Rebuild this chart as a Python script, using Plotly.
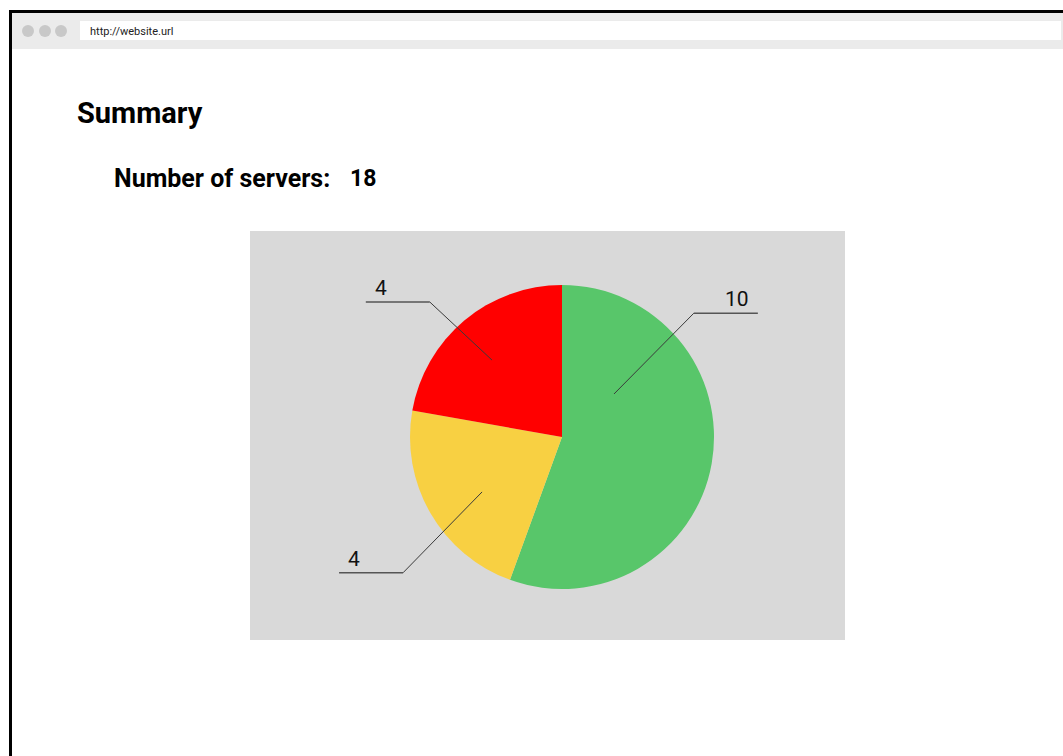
import math
import plotly.graph_objects as go

# ---- data ----
categories = ["OK", "Warning", "Error"]
server_counts = [10, 4, 4]
slice_colors = ["#58c66a", "#f8d042", "#ff0000"]
total_servers = sum(server_counts)

# ---- layout constants (pixels) ----
W, H = 1063, 756
CX, CY, R = 562, 437, 152          # pie centre / radius
# label callout placement: inner angle (deg clockwise from 12 o'clock), inner frac,
# elbow angle, elbow frac, side
callouts = [(50.4, 0.444, 46.8, 1.19, "right"),
            (235.5, 0.638, 229.5, 1.375, "left"),
            (317.7, 0.684, 315.6, 1.243, "left")]
TAIL = 64


def px(x):
    return x / W


def py(y):
    return 1 - y / H


fig = go.Figure()
fig.add_trace(go.Pie(
    labels=categories, values=server_counts, sort=False, direction="clockwise",
    rotation=0, marker=dict(colors=slice_colors, line=dict(width=0)),
    textinfo="none", hoverinfo="skip", showlegend=False,
    domain=dict(x=[px(CX - R), px(CX + R)], y=[py(CY + R), py(CY - R)]),
))

shapes = []
annotations = []
# browser chrome
shapes.append(dict(type="rect", xref="paper", yref="paper", x0=px(11), x1=px(W), y0=py(49), y1=py(12),
                   fillcolor="#ebebeb", line=dict(width=0), layer="below"))
shapes.append(dict(type="rect", xref="paper", yref="paper", x0=px(80), x1=px(1061), y0=py(40), y1=py(21),
                   fillcolor="#ffffff", line=dict(width=0), layer="below"))
for dx in (28, 45, 61):
    shapes.append(dict(type="circle", xref="paper", yref="paper", x0=px(dx - 6), x1=px(dx + 6),
                       y0=py(31 + 6), y1=py(31 - 6), fillcolor="#c8c8c8", line=dict(width=0),
                       layer="below"))
shapes.append(dict(type="line", xref="paper", yref="paper", x0=px(9), x1=px(W), y0=py(11.5), y1=py(11.5),
                   line=dict(color="#000000", width=3)))
shapes.append(dict(type="line", xref="paper", yref="paper", x0=px(10.5), x1=px(10.5), y0=py(10), y1=py(H),
                   line=dict(color="#000000", width=3)))
# chart background panel
shapes.append(dict(type="rect", xref="paper", yref="paper", x0=px(250), x1=px(845), y0=py(640), y1=py(231),
                   fillcolor="#d9d9d9", line=dict(width=0), layer="below"))

annotations.append(dict(text="http://website.url", x=px(88), y=py(31), xref="paper", yref="paper",
                        xanchor="left", yanchor="middle", showarrow=False,
                        font=dict(family="Roboto", size=11, color="#222222")))
annotations.append(dict(text="Summary", x=px(75), y=py(113), xref="paper", yref="paper",
                        xanchor="left", yanchor="middle", showarrow=False,
                        font=dict(family="Roboto", size=29, color="#000000", weight=700)))
annotations.append(dict(text="Number of servers:", x=px(112), y=py(179), xref="paper", yref="paper",
                        xanchor="left", yanchor="middle", showarrow=False,
                        font=dict(family="Roboto", size=25, color="#000000", weight=700)))
annotations.append(dict(text=str(total_servers), x=px(348), y=py(179), xref="paper", yref="paper",
                        xanchor="left", yanchor="middle", showarrow=False,
                        font=dict(family="Roboto", size=23, color="#000000", weight=700)))

# callouts
for val, (ai, fin, ae, fel, side) in zip(server_counts, callouts):
    a1, a2 = math.radians(ai), math.radians(ae)
    x1, y1 = CX + fin * R * math.sin(a1), CY - fin * R * math.cos(a1)
    x2, y2 = CX + fel * R * math.sin(a2), CY - fel * R * math.cos(a2)
    x3 = x2 + TAIL if side == "right" else x2 - TAIL
    shapes.append(dict(type="line", xref="paper", yref="paper", x0=px(x1), y0=py(y1), x1=px(x2), y1=py(y2),
                       line=dict(color="#3a3a3a", width=1)))
    shapes.append(dict(type="line", xref="paper", yref="paper", x0=px(x2), y0=py(y2), x1=px(x3), y1=py(y2),
                       line=dict(color="#555555", width=1.5)))
    if side == "right":
        tx, xa = x3 - 7, "right"
    else:
        tx, xa = x3 + 7, "left"
    annotations.append(dict(text=str(val), x=px(tx), y=py(y2 - 14), xref="paper", yref="paper",
                            xanchor=xa, yanchor="middle", showarrow=False,
                            font=dict(family="Roboto", size=21, color="#111111")))

fig.update_layout(width=W, height=H, margin=dict(l=0, r=0, t=0, b=0),
                  paper_bgcolor="#ffffff", plot_bgcolor="#ffffff",
                  shapes=shapes, annotations=annotations)
fig.write_html("out.html", config={"displayModeBar": False},
               post_script="document.body.style.margin='0';document.body.style.overflow='hidden';")
